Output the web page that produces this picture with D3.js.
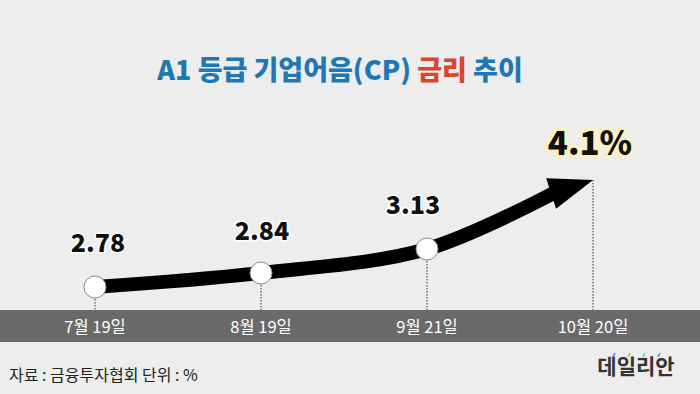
<html>
<script src='https://d3js.org/d3.v7.min.js'></script>
<style>
  body {margin: 0; background: #ededed;}
  text {font-family: 'Noto Sans CJK KR', 'Noto Sans', sans-serif;}
</style>
<body onload='init()'>
<svg width=700 height=394></svg>
<script>
const dates = ['7월 19일', '8월 19일', '9월 21일', '10월 20일']
const rates = [2.78, 2.84, 3.13, 4.1]
const labels = ['2.78', '2.84', '3.13', '4.1%']

function init() {
  const svg = d3.select('svg')
  svg.append('rect').attr('width', 700).attr('height', 394).attr('fill', '#ededed')

  const x = d3.scalePoint().domain(dates).range([95, 593])
  // schematic y: piecewise scale, as the infographic is not to scale
  const y = d3.scaleLinear().domain([2.78, 2.84, 3.13, 4.1]).range([287, 273, 249, 180])

  const title = svg.append('text').attr('x', 340).attr('y', 80)
    .attr('text-anchor', 'middle').attr('font-size', 27).attr('font-weight', 900)
    .attr('fill', '#1f78b4')
  title.append('tspan').text('A1 등급 기업어음(CP) ')
  title.append('tspan').attr('fill', '#d5482c').text('금리')
  title.append('tspan').text(' 추이')

  // band with dates
  svg.append('rect').attr('x', 0).attr('y', 310).attr('width', 700).attr('height', 32).attr('fill', '#6a6a6a')
  svg.selectAll('.date').data(dates).enter().append('text')
    .attr('x', d => x(d)).attr('y', 333).attr('text-anchor', 'middle')
    .attr('font-size', 16.5).attr('fill', '#fff').text(d => d)

  const pts = dates.map((d, i) => [x(d), y(rates[i])])

  // dotted drop lines
  svg.selectAll('.drop').data(pts).enter().append('line')
    .attr('x1', d => d[0]).attr('x2', d => d[0])
    .attr('y1', d => d[1]).attr('y2', 310)
    .attr('stroke', '#333').attr('stroke-width', 1).attr('stroke-dasharray', '1.5,1.5')

  // arrow line (ends before the tip, head drawn separately)
  const tip = pts[3]
  const prev = pts[2]
  const ang = Math.atan2(tip[1] - prev[1], tip[0] - prev[0]) + 0.08
  const headLen = 44, headW = 16
  const base = [tip[0] - headLen * Math.cos(ang), tip[1] - headLen * Math.sin(ang)]
  const linePts = [pts[0], pts[1], pts[2], [base[0] + 4 * Math.cos(ang), base[1] + 4 * Math.sin(ang)]]
  svg.append('path').datum(linePts)
    .attr('d', d3.line().curve(d3.curveCatmullRom.alpha(0.5)))
    .attr('fill', 'none').attr('stroke', '#000').attr('stroke-width', 14)
  const nx = -Math.sin(ang), ny = Math.cos(ang)
  svg.append('path')
    .attr('d', d3.line()([tip, [base[0] + nx * headW, base[1] + ny * headW], [base[0] - nx * headW, base[1] - ny * headW]]) + 'Z')
    .attr('fill', '#000')

  // markers
  svg.selectAll('.pt').data(pts.slice(0, 3)).enter().append('circle')
    .attr('cx', d => d[0]).attr('cy', d => d[1]).attr('r', 11)
    .attr('fill', '#fff').attr('stroke', '#888').attr('stroke-width', 1)

  // value labels
  const offs = [[3, -35], [1, -33], [-14, -35], [-3, -25]]
  svg.selectAll('.val').data(labels).enter().append('text')
    .attr('x', (d, i) => pts[i][0] + offs[i][0])
    .attr('y', (d, i) => pts[i][1] + offs[i][1])
    .attr('text-anchor', 'middle').attr('font-weight', 900)
    .attr('font-size', (d, i) => i === 3 ? 33 : 25)
    .attr('fill', '#111')
    .attr('stroke', (d, i) => i === 3 ? '#f8f1c4' : '#fff')
    .attr('stroke-width', (d, i) => i === 3 ? 7 : 3)
    .attr('stroke-linejoin', 'round')
    .attr('paint-order', 'stroke')
    .text(d => d)

  // footer
  svg.append('text').attr('x', 9).attr('y', 381).attr('font-size', 16).attr('fill', '#222')
    .text('자료 : 금융투자협회 단위 : %')
  svg.append('text').attr('x', 636).attr('y', 374).attr('text-anchor', 'middle')
    .attr('font-size', 21).attr('font-weight', 'bold').attr('fill', '#333').text('데일리안')
  const dotCols = ['#3b8fd0', '#e8a33a', '#7ab8e0', '#3b8fd0']
  svg.selectAll('.dot').data(dotCols).enter().append('line')
    .attr('x1', (d, i) => 613 + i * 15).attr('x2', (d, i) => 615 + i * 15)
    .attr('y1', 357).attr('y2', 353)
    .attr('stroke', d => d).attr('stroke-width', 1.5)
}
</script>
</body>
</html>
